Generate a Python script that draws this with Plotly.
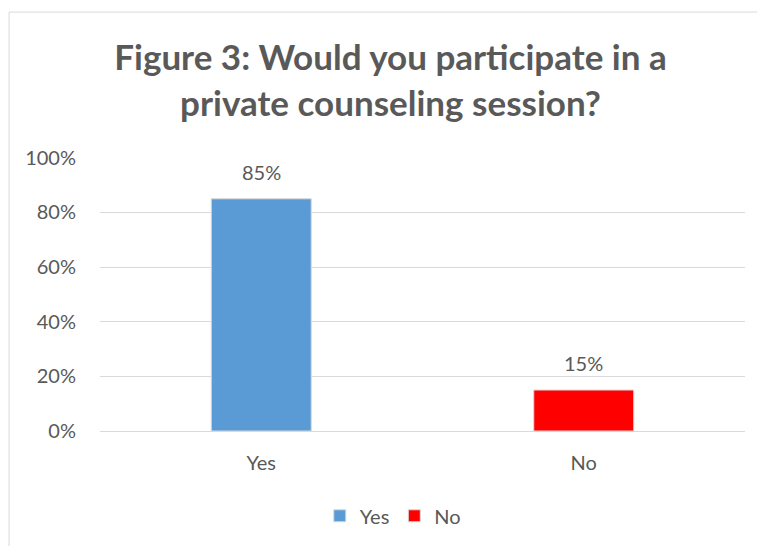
import plotly.graph_objects as go

categories = ["Yes", "No"]
values = [0.85, 0.15]
colors = ["#5B9BD5", "#FF0000"]
title_text = "Figure 3: Would you participate in a<br>private counseling session?"

FONT = "Lato, Carlito, 'Liberation Sans', sans-serif"
GRAY = "#595959"

fig = go.Figure()
for cat, val, col in zip(categories, values, colors):
    fig.add_trace(go.Bar(
        x=[cat], y=[val], name=cat,
        marker=dict(color=col, line=dict(color="#D9D9D9", width=1)),
        width=0.31,
        cliponaxis=False,
    ))
    fig.add_annotation(x=cat, y=val, text=f"{val:.0%}", showarrow=False,
                       yanchor="bottom", yshift=13,
                       font=dict(size=20, color=GRAY, family=FONT))

fig.update_layout(
    width=765, height=546,
    barmode="overlay",
    paper_bgcolor="white", plot_bgcolor="white",
    margin=dict(l=92, r=28, t=149, b=123, autoexpand=False),
    font=dict(family=FONT, color=GRAY, size=20),
    title=dict(text=title_text, x=0.5, xanchor="center", y=0.886, yanchor="top",
               font=dict(size=35, color=GRAY, family=FONT, weight="bold")),
    xaxis=dict(categoryorder="array", categoryarray=categories,
               showgrid=False, showline=True, linecolor="#D9D9D9",
               ticks="", ticklabelstandoff=14, automargin=False,
               tickfont=dict(size=20, color=GRAY)),
    yaxis=dict(range=[0, 1.003], tickformat=".0%", dtick=0.2,
               showgrid=True, gridcolor="#D9D9D9", gridwidth=1,
               zeroline=False, showline=False, ticks="",
               ticklabelstandoff=23, automargin=False,
               tickfont=dict(size=20, color=GRAY)),
    legend=dict(orientation="h", xref="container", x=0.503, xanchor="center",
                yref="container", y=0.07, yanchor="middle",
                font=dict(size=20, color=GRAY), itemwidth=30, traceorder="normal"),
    showlegend=True,
    shapes=[dict(type="rect", xref="paper", yref="paper",
                 x0=-0.141, x1=1.04, y0=-0.45, y1=1.529,
                 line=dict(color="#D9D9D9", width=1), layer="below")],
)

fig.write_html("out.html")
